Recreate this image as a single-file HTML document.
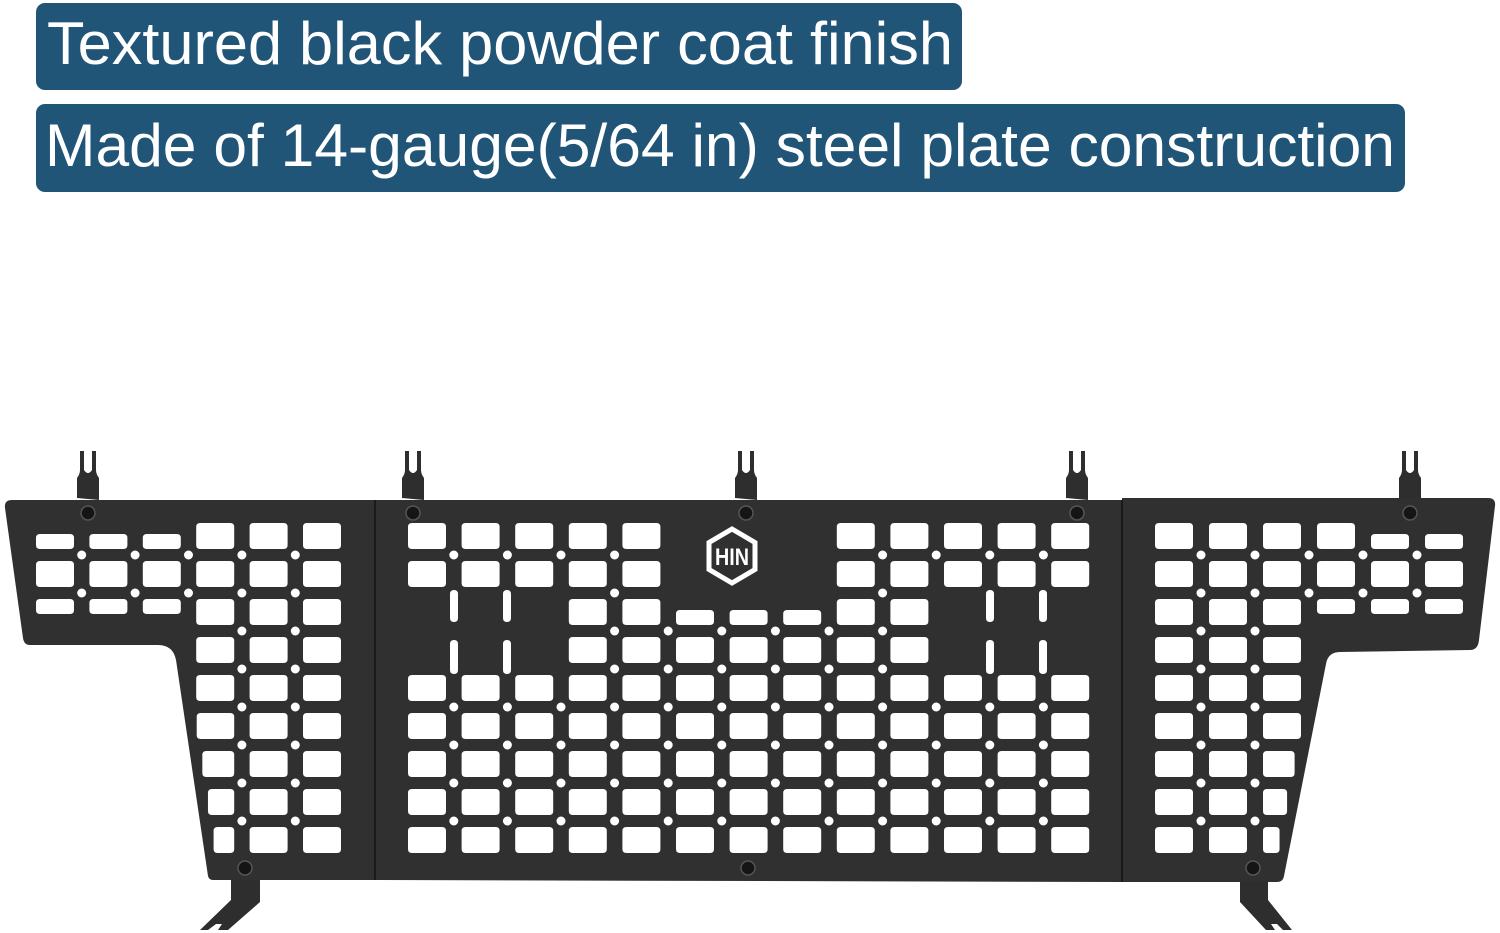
<!DOCTYPE html>
<html><head><meta charset="utf-8"><style>
html,body{margin:0;padding:0;background:#fff;}
svg{display:block;}
</style></head><body>
<svg id="s" width="1500" height="933" viewBox="0 0 1500 933" xmlns="http://www.w3.org/2000/svg">
<rect x="0" y="0" width="1500" height="933" fill="#fff"/>
<rect x="36" y="3" width="926" height="87" rx="9" fill="#215578"/>
<rect x="36" y="104" width="1369" height="88" rx="9" fill="#215578"/>
<text x="47" y="64" fill="#fff" font-family="Liberation Sans, sans-serif" font-size="60" textLength="906" lengthAdjust="spacingAndGlyphs">Textured black powder coat finish</text>
<text x="45" y="166" fill="#fff" font-family="Liberation Sans, sans-serif" font-size="60" textLength="1350" lengthAdjust="spacingAndGlyphs">Made of 14-gauge(5/64 in) steel plate construction</text>
<g id="hooks" fill="#2e2e2e"></g>
<g id="feet" fill="#2e2e2e">
<path d="M231 878 L260 878 L260 902 L228 930 L218 930 L222 924 L216 924 L208 930 L200 930 L231 900 Z"/>
<path d="M1240 878 L1268 878 L1268 900 L1292 930 L1283 930 L1277 924 L1271 924 L1275 930 L1266 930 L1240 902 Z"/>
</g>
<path id="plate" fill-rule="evenodd" fill="#303030" d=""/>
<line x1="375" y1="500" x2="375" y2="880" stroke="#1a1a1a" stroke-width="2"/>
<line x1="1122" y1="500" x2="1122" y2="882" stroke="#1a1a1a" stroke-width="2"/>
<g id="screws"></g>
<g transform="translate(732,556)">
<polygon points="0,-27 23,-13.5 23,13.5 0,27 -23,13.5 -23,-13.5" fill="none" stroke="#fff" stroke-width="5"/>
<text x="0" y="9" text-anchor="middle" fill="#fff" font-family="Liberation Sans, sans-serif" font-weight="bold" font-size="24" textLength="34" lengthAdjust="spacingAndGlyphs">HIN</text>
</g>
</svg>
<script>
(function(){
var d="";
function rr(x,y,w,h,r){return "M"+(x+r)+" "+y+"h"+(w-2*r)+"q"+r+" 0 "+r+" "+r+"v"+(h-2*r)+"q0 "+r+" -"+r+" "+r+"h-"+(w-2*r)+"q-"+r+" 0 -"+r+" -"+r+"v-"+(h-2*r)+"q0 -"+r+" "+r+" -"+r+"z";}
function circ(cx,cy,r){return "M"+(cx-r)+" "+cy+"a"+r+" "+r+" 0 1 0 "+(2*r)+" 0a"+r+" "+r+" 0 1 0 -"+(2*r)+" 0z";}
d+="M12 500 L375 500 L375 880 L213 880 Q209 880 208 876 L176 660 Q173 645 158 645 L30 645 Q24 645 23 638 L5 508 Q4 500 12 500 Z";
d+="M375 500 L1122 500 L1122 882 L375 880 Z";
d+="M1122 498 L1488 498 Q1496 498 1495 506 L1479 640 Q1478 650 1470 650 L1340 652 Q1328 652 1326 664 L1284 876 Q1283 882 1277 882 L1122 882 Z";
var rowY=function(r){return 536+38*r;};
function leftLim(y){return 176+(y-660)*32/216+9;}
function rightLim(y){return 1326-(y-664)*42/212-9;}
function grid(cols,map,short,side){
  var C=cols.length;
  for(var r=0;r<9;r++)for(var c=0;c<C;c++){ if(!map(c,r))continue;
    var cx=cols[c],cy=rowY(r),s=short(c,r);
    var x0=cx-19,x1=cx+19;
    if(side=="L"&&r>=3){var lim=leftLim(cy+13); if(x0<lim)x0=lim;}
    if(side=="R"&&r>=3){var lim=rightLim(cy+13); if(x1>lim)x1=lim;}
    var w=x1-x0;
    if(s===1) d+=rr(x0,cy-2,w,15,4);
    else if(s===2) d+=rr(x0,cy-13,w,15,4);
    else d+=rr(x0,cy-13,w,26,4);
  }
  for(var r=0;r<8;r++)for(var c=0;c<C-1;c++){
    if(map(c,r)&&map(c+1,r)&&map(c,r+1)&&map(c+1,r+1))
      d+=circ((cols[c]+cols[c+1])/2,rowY(r)+19,4.5);
  }
}
var L=[],M=[],R=[];
for(var i=0;i<6;i++)L.push(55+53.4*i);
for(var i=0;i<13;i++)M.push(427+53.6*i);
for(var i=0;i<6;i++)R.push(1174+54*i);
grid(L,function(c,r){return r<3||c>=3;},function(c,r){if(r==0&&c<3)return 1;if(r==2&&c<3)return 2;return 0;},"L");
grid(M,function(c,r){
  if(r<2)return c<5||c>7;
  if(r==2)return (c>=3&&c<=9);
  if(r==3)return (c>=3&&c<=9);
  return true;},function(c,r){if(r==2&&c>=5&&c<=7)return 1;return 0;},"M");
grid(R,function(c,r){return r<3||c<3;},function(c,r){if(r==0&&c>=4)return 1;if(r==2&&c>=3)return 2;return 0;},"R");
[454,507,990,1043].forEach(function(x){d+=rr(x-4,590,8,32,4);d+=rr(x-4,640,8,34,4);});
document.getElementById("plate").setAttribute("d",d);
var hk="",sc="";
[88,413,746,1077,1410].forEach(function(x){
  hk+='<path d="M'+(x-11)+' 498 L'+(x-11)+' 478 Q'+(x-8)+' 474 '+(x-8)+' 470 L'+(x-8)+' 451 L'+(x-4)+' 451 L'+(x-4)+' 470 Q'+x+' 476 '+(x+4)+' 470 L'+(x+4)+' 451 L'+(x+8)+' 451 L'+(x+8)+' 470 Q'+(x+8)+' 474 '+(x+11)+' 478 L'+(x+11)+' 500 Z"/>';
  sc+='<circle cx="'+x+'" cy="513" r="7" fill="#151515" stroke="#555" stroke-width="1.5"/>';
});
[[245,868],[748,868],[1253,868]].forEach(function(p){sc+='<circle cx="'+p[0]+'" cy="'+p[1]+'" r="7" fill="#151515" stroke="#555" stroke-width="1.5"/>';});
document.getElementById("hooks").innerHTML=hk;
document.getElementById("screws").innerHTML=sc;
})();
</script>
</body></html>
